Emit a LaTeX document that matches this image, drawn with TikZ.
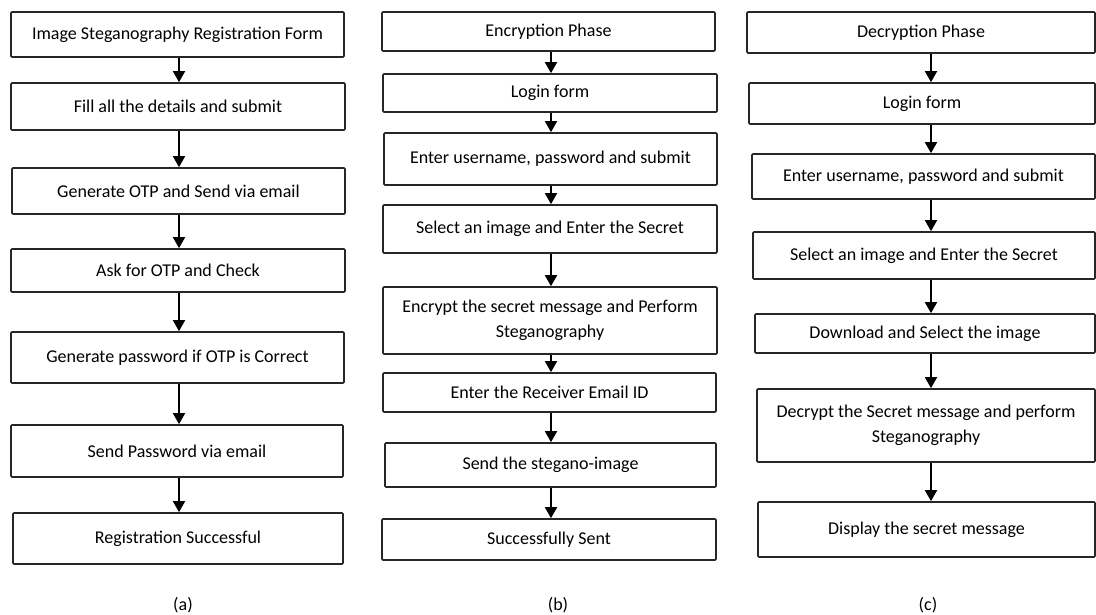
\documentclass[tikz,border=0pt]{standalone}
\usepackage{fontspec}
\setmainfont{Carlito}
\usetikzlibrary{arrows.meta}
\begin{document}
\begin{tikzpicture}[x=1pt,y=-1pt,
  box/.style={draw=black!85, line width=1.7pt, rounded corners=1pt, inner sep=0pt, align=center,
    font=\fontsize{18}{25}\selectfont, text=black},
  arr/.style={draw=black, line width=1.8pt, -{Triangle[width=12pt,length=11pt]}},
  sublabel/.style={font=\fontsize{18}{20}\selectfont, text=black}]
\useasboundingbox (0,0) rectangle (1096,615);
\newcommand{\bx}[6]{%
  \node[box, minimum width={#4-#2}, minimum height={#5-#3}] (#1) at ({(#2+#4)/2},{(#3+#5)/2}) {#6};}
% column (a)
\bx{a1}{11}{12}{344}{57}{Image Steganography Registration Form}
\bx{a2}{11}{83}{345}{130}{Fill all the details and submit}
\bx{a3}{12}{168}{345}{214}{Generate OTP and Send via email}
\bx{a4}{11}{249}{345}{292}{Ask for OTP and Check}
\bx{a5}{11}{332}{344}{383}{Generate password if OTP is Correct}
\bx{a6}{11}{425}{343}{477}{Send Password via email}
\bx{a7}{13}{513}{343}{564}{Registration Successful}
\node[sublabel] (la) at (183,605) {(a)};
% column (b)
\bx{b1}{382}{12}{715}{51}{Encryption Phase}
\bx{b2}{383}{74}{717}{112}{Login form}
\bx{b3}{384}{133}{717}{185}{Enter username, password and submit}
\bx{b4}{383}{205}{717}{253}{Select an image and Enter the Secret}
\bx{b5}{383}{287}{717}{354}{Encrypt the secret message and Perform\\Steganography}
\bx{b6}{383}{373}{716}{412}{Enter the Receiver Email ID}
\bx{b7}{385}{443}{716}{487}{Send the stegano-image}
\bx{b8}{382}{519}{716}{560}{Successfully Sent}
\node[sublabel] (lb) at (558,605) {(b)};
% column (c)
\bx{c1}{747}{12}{1095}{53}{Decryption Phase}
\bx{c2}{749}{83}{1095}{124}{Login form}
\bx{c3}{752}{154}{1095}{199}{Enter username, password and submit}
\bx{c4}{753}{232}{1095}{279}{Select an image and Enter the Secret}
\bx{c5}{755}{314}{1095}{353}{Download and Select the image}
\bx{c6}{757}{389}{1095}{462}{Decrypt the Secret message and perform\\Steganography}
\bx{c7}{758}{502}{1095}{557}{Display the secret message}
\node[sublabel] (lc) at (928,605) {(c)};
% arrow columns
\coordinate (ax) at (179,0);
\coordinate (bx) at (551,0);
\coordinate (cx) at (931,0);
\foreach \u/\v in {a1/a2,a2/a3,a3/a4,a4/a5,a5/a6,a6/a7}
  \draw[arr] (\u.south -| ax) -- (\v.north -| ax);
\foreach \u/\v in {b1/b2,b2/b3,b3/b4,b4/b5,b5/b6,b6/b7,b7/b8}
  \draw[arr] (\u.south -| bx) -- (\v.north -| bx);
\foreach \u/\v in {c1/c2,c2/c3,c3/c4,c4/c5,c5/c6,c6/c7}
  \draw[arr] (\u.south -| cx) -- (\v.north -| cx);
\end{tikzpicture}
\end{document}
